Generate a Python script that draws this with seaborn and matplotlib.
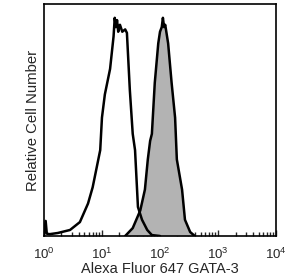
import numpy as np
import pandas as pd
import matplotlib
matplotlib.use("Agg")
import matplotlib.pyplot as plt
import seaborn as sns

# isotype control (open histogram): log10 intensity and relative count
control_log = [0.0, 0.03, 0.05, 0.10, 0.24, 0.45, 0.62, 0.76, 0.84, 0.97, 1.00, 1.05,
               1.14, 1.20, 1.22, 1.24, 1.26, 1.28, 1.31, 1.35, 1.40, 1.43, 1.48, 1.53,
               1.57, 1.62, 1.69, 1.78, 1.86, 2.0]
control_count = [0.0, 0.065, 0.01, 0.008, 0.013, 0.026, 0.06, 0.14, 0.21, 0.37, 0.51, 0.61,
                 0.72, 0.86, 0.94, 0.90, 0.93, 0.88, 0.91, 0.88, 0.89, 0.875, 0.63, 0.44,
                 0.37, 0.125, 0.07, 0.026, 0.004, 0.0]

# GATA-3 stained (filled histogram)
stain_log = [1.40, 1.53, 1.66, 1.74, 1.79, 1.83, 1.86, 1.91, 1.97, 2.00, 2.03, 2.05,
             2.07, 2.09, 2.14, 2.20, 2.26, 2.29, 2.38, 2.43, 2.52, 2.60]
stain_count = [0.0, 0.034, 0.11, 0.20, 0.33, 0.41, 0.44, 0.66, 0.83, 0.88, 0.90, 0.94,
               0.90, 0.91, 0.83, 0.66, 0.51, 0.33, 0.20, 0.07, 0.017, 0.0]

tick_vals = [1, 10, 100, 1000, 10000]
tick_labels = [r"$10^{0}$", r"$10^{1}$", r"$10^{2}$", r"$10^{3}$", r"$10^{4}$"]

ctrl = pd.DataFrame({"x": 10 ** np.array(control_log), "y": control_count})
stain = pd.DataFrame({"x": 10 ** np.array(stain_log), "y": stain_count})

sns.set_style("white")
plt.rcParams["font.family"] = ["Liberation Sans", "DejaVu Sans"]
plt.rcParams["mathtext.fontset"] = "custom"
plt.rcParams["mathtext.rm"] = "Liberation Sans"

fig, ax = plt.subplots(figsize=(2.87, 2.77), dpi=100)
fig.subplots_adjust(left=0.153, right=0.962, top=0.986, bottom=0.148)

ax.fill_between(stain["x"], stain["y"], color="#b3b3b3", lw=0)
sns.lineplot(data=stain, x="x", y="y", ax=ax, color="black", lw=1.8, sort=False)
sns.lineplot(data=ctrl, x="x", y="y", ax=ax, color="black", lw=1.8, sort=False)

ax.set_xscale("log")
ax.set_xlim(1, 10000)
ax.set_ylim(0, 1.0)
ax.set_xticks(tick_vals)
ax.set_xticklabels(tick_labels, fontsize=9.5)
ax.set_yticks([])
ax.tick_params(axis="x", which="major", direction="in", length=4, width=1, pad=8,
               bottom=True)
ax.tick_params(axis="x", which="minor", direction="in", length=3, width=1, bottom=True)
ax.set_xlabel("Alexa Fluor 647 GATA-3", fontsize=10.5, labelpad=0)
ax.set_ylabel("Relative Cell Number", fontsize=10.7, labelpad=3)
for s in ax.spines.values():
    s.set_linewidth(1.2)
    s.set_color("black")

fig.savefig("out.png", dpi=100)
